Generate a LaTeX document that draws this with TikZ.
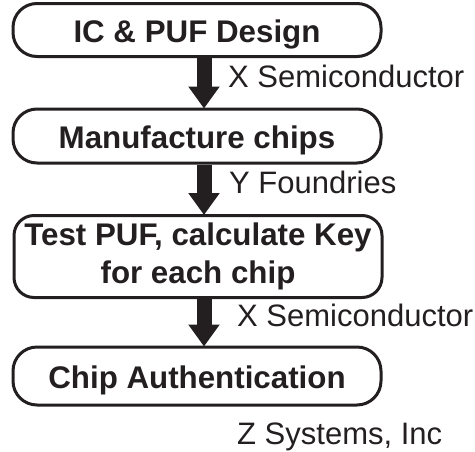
\documentclass[tikz,border=0pt]{standalone}
\usepackage{fontspec}
\setmainfont{Liberation Sans}
\usetikzlibrary{arrows.meta}
\definecolor{ink}{HTML}{231F20}
\tikzset{
  stagebox/.style={draw=ink, line width=3pt, rounded corners=24pt,
    minimum width=368pt, inner sep=0pt, text=ink,
    font=\fontsize{31.3}{38}\selectfont\bfseries,
    text height=24pt, text depth=0pt},
  flowarrow/.style={draw=ink, line width=15pt,
    -{Triangle[width=30pt,length=22pt]}},
  orglabel/.style={anchor=base west, inner sep=0pt, text=ink,
    font=\fontsize{31}{37}\selectfont}
}
\begin{document}
\begin{tikzpicture}[x=1pt,y=-1pt]
  \useasboundingbox (0,0) rectangle (475,451);
  % process stages
  \node[stagebox, minimum height=53pt] (design) at (197,30) {IC \& PUF Design};
  \node[stagebox, minimum height=54pt] (mfg) at (197,136) {Manufacture chips};
  \node[stagebox, minimum height=82pt, rounded corners=20pt, align=center,
        text height={}, text depth={}] (test) at (198,256.5)
        {Test PUF, calculate Key\\for each chip};
  \node[stagebox, minimum height=58pt] (auth) at (197,376) {Chip Authentication};
  % arrow axis
  \coordinate (ax) at (204,0);
  % hand-offs between stages
  \draw[flowarrow] (design.south -| ax) -- ([yshift=-1pt]mfg.north -| ax);
  \draw[flowarrow] (mfg.south -| ax) -- ([yshift=-1pt]test.north -| ax);
  \draw[flowarrow] (test.south -| ax) -- ([yshift=-1pt]auth.north -| ax);
  % responsible parties
  \node[orglabel] (l1) at (228,87) {X Semiconductor};
  \node[orglabel] (l2) at (229,193) {Y Foundries};
  \node[orglabel] (l3) at (237,326) {X Semiconductor};
  \node[orglabel] (l4) at (237,444) {Z Systems, Inc};
\end{tikzpicture}
\end{document}
